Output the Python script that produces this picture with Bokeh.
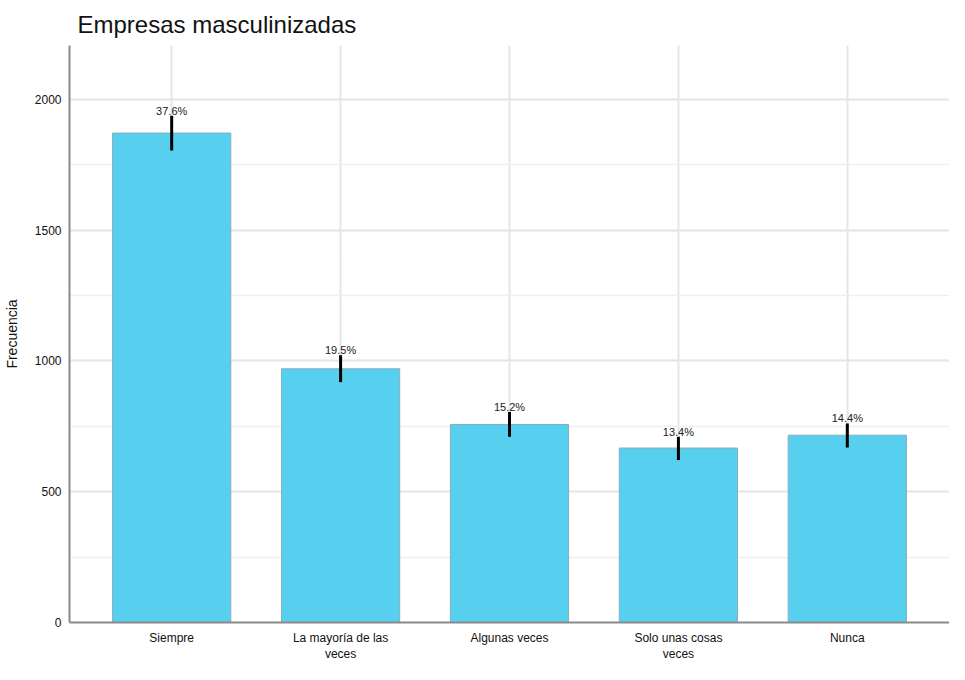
from bokeh.plotting import figure
from bokeh.models import ColumnDataSource, FactorRange, Range1d, SingleIntervalTicker
from bokeh.core.properties import value
from bokeh.embed import file_html
from bokeh.resources import INLINE

categories = ["Siempre", "La mayoría de las\nveces", "Algunas veces", "Solo unas cosas\nveces", "Nunca"]
counts = [1871, 970, 757, 667, 716]
err_low = [1805, 919, 710, 621, 669]
err_high = [1937, 1022, 805, 710, 761]
pct_labels = ["37.6%", "19.5%", "15.2%", "13.4%", "14.4%"]

src = ColumnDataSource(dict(cat=categories, n=counts, lo=err_low, hi=err_high, lab=pct_labels))

p = figure(width=949, height=664, output_backend="svg", toolbar_location=None,
           x_range=FactorRange(*categories, range_padding=0.105, range_padding_units="absolute"),
           y_range=Range1d(0, 2206),
           title="Empresas masculinizadas",
           min_border_left=65, min_border_right=0, min_border_top=9, min_border_bottom=0)

p.title.text_font = "Liberation Sans"
p.title.text_font_size = "24px"
p.title.text_font_style = "normal"
p.title.text_color = "#111111"
p.title.offset = 8
p.title.standoff = 16

p.vbar(x="cat", top="n", width=0.7, source=src, fill_color="#57CFEE",
       line_color="#86aebd", line_width=1)
p.segment(x0="cat", y0="lo", x1="cat", y1="hi", source=src, line_color="black", line_width=3)
p.text(x="cat", y="hi", text="lab", source=src, text_align="center", text_baseline="bottom",
       text_font=value("Liberation Sans"), text_font_size="11px", text_color="#222222", y_offset=1)

p.yaxis.ticker = SingleIntervalTicker(interval=500, num_minor_ticks=2)
p.ygrid.minor_grid_line_color = "#efefef"
p.ygrid.minor_grid_line_width = 1.5
p.ygrid.grid_line_color = "#e6e6e6"
p.ygrid.grid_line_width = 2
p.xgrid.grid_line_color = "#e6e6e6"
p.xgrid.grid_line_width = 2

for ax in (p.xaxis, p.yaxis):
    ax.axis_line_color = "#8a8a8a"
    ax.axis_line_width = 2
    ax.major_tick_line_color = None
    ax.minor_tick_line_color = None
    ax.major_tick_out = 0
    ax.major_tick_in = 0
    ax.minor_tick_out = 0
    ax.minor_tick_in = 0
    ax.major_label_text_font = "Liberation Sans"
    ax.major_label_text_font_size = "12px"
    ax.major_label_text_color = "#111111"

p.yaxis.major_label_standoff = 8
p.yaxis.axis_label = "Frecuencia"
p.yaxis.axis_label_text_font = "Liberation Sans"
p.yaxis.axis_label_text_font_size = "14px"
p.yaxis.axis_label_text_font_style = "normal"
p.yaxis.axis_label_text_color = "#111111"
p.yaxis.axis_label_standoff = 12
p.xaxis.major_label_standoff = 8

p.outline_line_color = None

open("out.html", "w").write(file_html(p, INLINE))
